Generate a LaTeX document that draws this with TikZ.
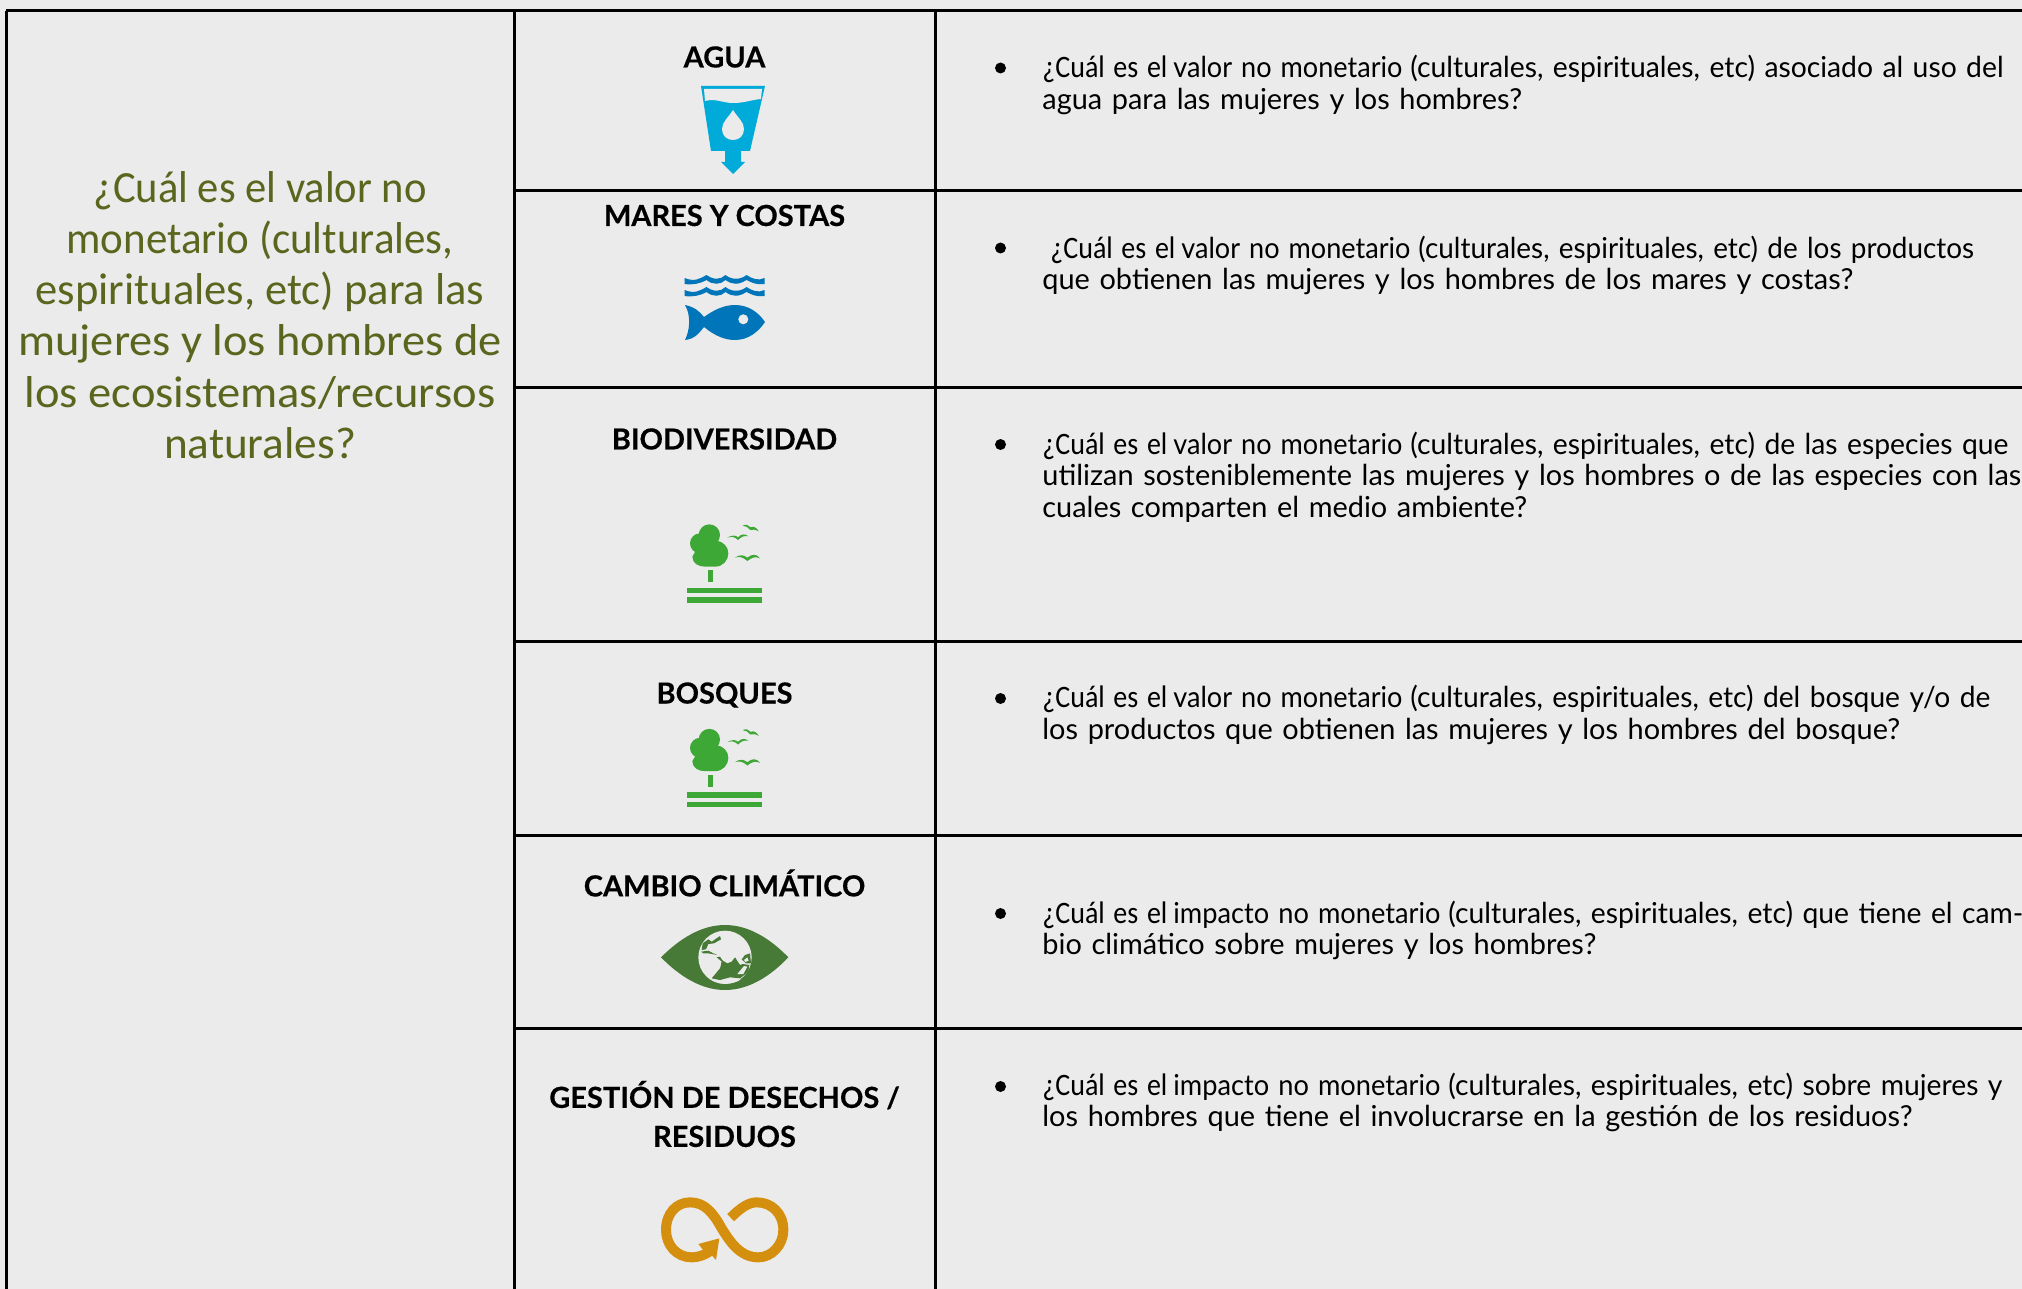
\documentclass[tikz,border=0pt]{standalone}
\usepackage{fontspec}
\setmainfont{Lato}[BoldFeatures={FakeBold=0.4}]
\newfontfamily\carl{Carlito}
\definecolor{bg}{HTML}{EBEBEB}
\definecolor{olive}{HTML}{5A661E}
\definecolor{aguac}{HTML}{00AAD9}
\definecolor{marc}{HTML}{0075BA}
\definecolor{bioc}{HTML}{3EA836}
\definecolor{climac}{HTML}{487A37}
\definecolor{resc}{HTML}{D48F0F}
\newcommand{\cpre}{\resizebox{62.5pt}{\height}{\carl\fontsize{15.6pt}{16pt}\selectfont ¿Cuál es el}\hspace{3pt}}
\newcommand{\cq}{\cpre\resizebox{114.5pt}{\height}{valor no monetario}\hspace{4pt}}
\newcommand{\ci}{\cpre\resizebox{133.5pt}{\height}{impacto no monetario}\hspace{4pt}}
\newcommand{\sx}[2]{\scalebox{#1}[1]{#2}}
\tikzset{
  x=0.5pt,y=-0.5pt,
  rule/.style={draw=black,line width=1.5pt},
  head/.style={font=\fontsize{14.5pt}{19.5pt}\selectfont\bfseries,align=center,text=black,inner sep=0pt},
  body/.style={font=\fontsize{14.45pt}{15.8pt}\selectfont,anchor=north west,align=left,text=black,inner sep=0pt,text width=520pt},
  dotn/.style={circle,fill=black,inner sep=0pt,minimum size=5.5pt},
  lefttext/.style={font=\carl\fontsize{22.3pt}{25.6pt}\selectfont,align=center,text=olive,inner sep=0pt},
}
\newcommand{\bioicon}[2]{%
\begin{scope}[shift={(#1,#2)},scale=1/3]
  \fill[bioc] (208,135) circle (32) (180,160) circle (30);
  \fill[bioc] (157,200) .. controls (157,220) and (175,230) .. (195,230) -- (225,230) .. controls (250,230) and (265,210) .. (265,190) .. controls (265,170) and (250,155) .. (230,152) -- (180,160) -- cycle;
  \fill[bioc] (203,240) rectangle (218,277);
  \fill[bioc] (142,293) rectangle (366,309);
  \fill[bioc] (142,322) rectangle (366,338);
  \fill[bioc] (262,143) .. controls (280,132) and (290,138) .. (294,142) .. controls (303,132) and (315,130) .. (325,139) .. controls (312,136) and (305,140) .. (294,150) .. controls (285,141) and (275,138) .. (262,143) -- cycle;
  \fill[bioc] (285,203) .. controls (300,192) and (312,195) .. (322,203) .. controls (335,192) and (350,190) .. (360,205) .. controls (345,198) and (335,203) .. (322,213) .. controls (310,202) and (298,198) .. (285,203) -- cycle;
  \fill[bioc] (308,107) .. controls (318,101) and (326,106) .. (332,112) .. controls (340,108) and (350,112) .. (356,124) .. controls (346,118) and (338,118) .. (331,120) .. controls (325,112) and (318,108) .. (308,107) -- cycle;
\end{scope}}
\begin{document}
\begin{tikzpicture}
\useasboundingbox (0,0) rectangle (2022,1289);
\fill[bg] (0,0) rectangle (2022,1289);
% grid
\coordinate (tl) at (6,11);
\coordinate (tr) at (2022,11);
\coordinate (bl) at (6,1289);
\coordinate (c1t) at (514,11);
\coordinate (c1b) at (514,1289);
\coordinate (c2t) at (935.5,11);
\coordinate (c2b) at (935.5,1289);
\coordinate (r1a) at (514,191);\coordinate (r1b) at (2022,191);
\coordinate (r2a) at (514,387.5);\coordinate (r2b) at (2022,387.5);
\coordinate (r3a) at (514,641);\coordinate (r3b) at (2022,641);
\coordinate (r4a) at (514,835);\coordinate (r4b) at (2022,835);
\coordinate (r5a) at (514,1028.5);\coordinate (r5b) at (2022,1028.5);
\draw[rule] (tl)--(tr);
\draw[rule] (tl)--(bl);
\draw[rule] (c1t)--(c1b);
\draw[rule] (c2t)--(c2b);
\draw[rule] (r1a)--(r1b);
\draw[rule] (r2a)--(r2b);
\draw[rule] (r3a)--(r3b);
\draw[rule] (r4a)--(r4b);
\draw[rule] (r5a)--(r5b);
% left
\node[lefttext] (q) at (260,315) {\sx{.955}{¿Cuál es el valor no}\\\sx{.965}{monetario (culturales,}\\espirituales, etc) para las\\\sx{1.04}{mujeres y los hombres de}\\\sx{1.043}{los ecosistemas/recursos}\\\sx{1.014}{naturales?}};
% heads
\node[head] (h1) at (724.5,57) {AGUA};
\node[head] (h2) at (724.5,215.5) {MARES Y COSTAS};
\node[head] (h3) at (724.5,439) {BIODIVERSIDAD};
\node[head] (h4) at (724.5,695) {BOSQUES};
\node[head] (h5) at (724.5,883) {CAMBIO CLIMÁTICO};
\node[head] (h6) at (724.5,1114) {GESTIÓN DE DESECHOS /\\RESIDUOS};
% bullets
\node[dotn] (b1) at (1000.5,68) {};
\node[dotn] (b2) at (1000.5,248) {};
\node[dotn] (b3) at (1000.5,444.5) {};
\node[dotn] (b4) at (1000.5,698.5) {};
\node[dotn] (b5) at (1000.5,913.5) {};
\node[dotn] (b6) at (1000.5,1086.5) {};
% body
\node[body] (t1) at (1042,55) {\cq\sx{.979}{(culturales, espirituales, etc) asociado al uso del}\\agua para las mujeres y los hombres?};
\node[body] (t2) at (1042,235.5) {\hspace{4pt}\cq\sx{.965}{(culturales, espirituales, etc) de los productos}\\que obtienen las mujeres y los hombres de los mares y costas?};
\node[body] (t3) at (1042,431.5) {\cq\sx{.979}{(culturales, espirituales, etc) de las especies que}\\utilizan sosteniblemente las mujeres y los hombres o de las especies con las\\cuales comparten el medio ambiente?};
\node[body] (t4) at (1042,685) {\cq\sx{.975}{(culturales, espirituales, etc) del bosque y/o de}\\los productos que obtienen las mujeres y los hombres del bosque?};
\node[body] (t5) at (1042,900.5) {\ci\sx{.979}{(culturales, espirituales, etc) que tiene el cam-}\\bio climático sobre mujeres y los hombres?};
\node[body] (t6) at (1042,1072.5) {\ci\sx{.979}{(culturales, espirituales, etc) sobre mujeres y}\\los hombres que tiene el involucrarse en la gestión de los residuos?};
% water icon
\fill[aguac] (701,86) -- (765,86) -- (750,151) -- (741,151) -- (741,162) -- (745,162) -- (733,174) -- (721,162) -- (725,162) -- (725,151) -- (711,151) -- cycle;
\fill[bg] (704,89) -- (762,89) -- (761,99) .. controls (750,100) and (745,103) .. (733,103) .. controls (722,103) and (716,98) .. (705,101) -- cycle;
\fill[bg] (733,110) .. controls (738,118) and (744,122) .. (744,129) .. controls (744,136) and (739,140) .. (733,140) .. controls (727,140) and (722,136) .. (722,129) .. controls (722,122) and (728,118) .. (733,110) -- cycle;
% sea icon
\begin{scope}[shift={(684.5,275)}]
\foreach \dy in {0,12}{
 \begin{scope}[shift={(0,\dy)}]
 \fill[marc] (0,3) .. controls (10,7) and (15,4) .. (22,0) .. controls (29,5) and (36,5) .. (41,0) .. controls (47,5) and (56,5) .. (62,0) .. controls (68,4) and (74,6) .. (80,3) -- (80,9) .. controls (72,10) and (68,8) .. (62,5) .. controls (54,10) and (48,10) .. (41,5) .. controls (36,10) and (28,10) .. (22,5) .. controls (15,9) and (8,10) .. (0,9) -- cycle;
 \end{scope}
}
\end{scope}
\fill[marc] (685,305) .. controls (695,307) and (700,312) .. (704,317) .. controls (715,309) and (725,305) .. (735,305) .. controls (749,305) and (759,313) .. (765,322) .. controls (759,331) and (749,340) .. (735,340) .. controls (725,340) and (715,336) .. (704,327) .. controls (699,333) and (695,339) .. (685,340) .. controls (690,330) and (691,315) .. (685,305) -- cycle;
\fill[bg] (743.3,319.3) circle (5);
% trees
\bioicon{640}{490}
\bioicon{640}{694.5}
% eye
\begin{scope}[shift={(640,900)},scale=1/3]
\fill[climac] (63,172) .. controls (120,115) and (185,75) .. (255,75) .. controls (325,75) and (390,115) .. (445,172) .. controls (390,230) and (325,270) .. (255,270) .. controls (185,270) and (120,230) .. (63,172) -- cycle;
\fill[bg] (255,172) circle (80);
% oceans
\fill[climac] (245,180) -- (262,190) -- (275,185) -- (285,172) -- (300,195) -- (308,192) -- (328,195) -- (325,215) -- (300,235) -- (270,232) -- (240,240) -- (215,235) -- (240,205) -- (243,195) -- cycle;
\fill[bg] (232,245) .. controls (260,235) and (290,235) .. (302,238) .. controls (290,250) and (250,255) .. (232,245) -- cycle;
\fill[bg] (292,222) -- (312,198) -- (322,200) -- (310,222) -- cycle;
\fill[climac] (188,130) -- (205,118) -- (215,125) -- (240,108) -- (243,118) -- (222,130) -- (205,132) -- (198,148) -- (185,150) -- cycle;
\fill[climac] (183,155) -- (205,152) -- (220,160) -- (232,165) -- (205,160) -- (190,160) -- cycle;
\fill[climac] (230,172) -- (240,170) -- (250,185) -- (242,182) -- cycle;
\fill[climac] (305,178) -- (315,165) -- (330,160) -- (333,190) -- (318,190) -- cycle;
\fill[bg] (312,180) -- (322,172) -- (326,182) -- (316,186) -- cycle;
\end{scope}
% infinity
\begin{scope}[shift={(640,1180)},scale=1/3]
\draw[resc,line width=5pt] (272,113) .. controls (300,85) and (325,67) .. (350,67) .. controls (395,67) and (430,100) .. (430,150) .. controls (430,195) and (395,232) .. (355,232) .. controls (300,232) and (270,185) .. (245,145) .. controls (220,100) and (195,67) .. (150,67) .. controls (110,67) and (78,100) .. (78,150) .. controls (78,195) and (110,232) .. (155,232) .. controls (175,232) and (195,225) .. (212,212);
\fill[resc] (175,192) -- (238,175) -- (228,240) -- (212,222) -- (188,208) -- cycle;
\end{scope}
\end{tikzpicture}
\end{document}
